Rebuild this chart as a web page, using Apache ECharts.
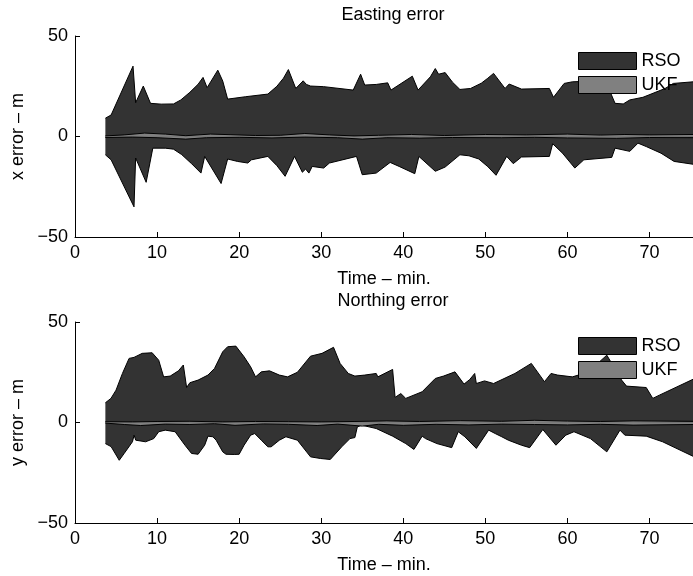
<!DOCTYPE html>
<html>
<head>
<meta charset="utf-8">
<script src="https://cdn.jsdelivr.net/npm/echarts@6/dist/echarts.min.js"></script>
<style>
  html, body { margin: 0; padding: 0; background: #fff; }
  #chart { width: 693px; height: 576px; }
</style>
</head>
<body>
<div id="chart"></div>
<script>
// Error envelopes over time: [time (min), error (m)]
const eastRsoUpper = [
  [3.7, 9.1], [4.4, 10.7], [7.07, 35.0], [7.39, 16.8], [8.32, 25.1], [9.2, 16.5],
  [10.5, 16.1], [12.0, 16.2], [12.9, 18.2], [14.0, 22.0], [15.0, 26.0], [15.6, 29.4],
  [16.1, 24.3], [17.4, 33.0], [18.0, 27.6], [18.6, 18.6], [20.8, 19.8], [23.5, 21.1],
  [24.6, 25.0], [25.4, 29.0], [26.0, 33.3], [26.9, 23.9], [27.8, 27.7], [28.2, 25.9],
  [28.7, 25.1], [30.3, 24.8], [33.9, 23.1], [34.8, 31.0], [35.3, 25.6], [36.7, 25.9],
  [38.1, 26.7], [38.5, 23.1], [41.1, 30.0], [41.8, 23.1], [43.3, 29.7], [43.9, 33.8],
  [44.3, 31.0], [45.1, 31.8], [46.0, 27.0], [46.9, 23.4], [48.2, 23.9], [49.5, 26.5],
  [50.3, 29.0], [51.0, 31.4], [52.4, 23.9], [52.9, 26.1], [54.4, 23.6], [57.8, 23.9],
  [58.3, 19.5], [59.6, 26.4], [60.6, 27.2], [62.5, 27.5], [64.5, 26.5], [65.2, 22.3],
  [65.8, 16.5], [66.8, 16.2], [67.6, 18.2], [69.2, 19.5], [71.9, 23.9], [72.9, 26.4],
  [75.3, 27.2]
];
const eastRsoLower = [
  [3.7, -9.1], [4.4, -11.6], [7.19, -35.0], [7.39, -10.7], [8.67, -22.8], [9.48, -5.8],
  [11.0, -5.8], [12.0, -6.3], [13.0, -9.0], [14.2, -13.5], [15.35, -18.2], [15.8, -9.9],
  [17.8, -23.4], [18.6, -11.2], [19.8, -12.4], [21.05, -13.2], [21.5, -11.6], [23.5, -9.9],
  [24.6, -14.5], [25.6, -19.8], [26.75, -9.9], [27.7, -17.8], [28.1, -16.2], [28.5, -18.2],
  [28.9, -14.9], [30.3, -15.7], [31.0, -13.2], [34.3, -9.9], [35.0, -19.0], [36.7, -18.2],
  [38.4, -12.9], [39.5, -14.9], [41.4, -18.5], [41.9, -9.9], [43.9, -17.3], [45.1, -15.2],
  [46.9, -9.1], [48.0, -9.6], [49.2, -11.2], [50.3, -15.0], [51.3, -19.3], [52.6, -9.9],
  [53.4, -13.5], [54.4, -10.2], [57.8, -9.9], [58.2, -3.6], [59.4, -8.3], [60.9, -15.7],
  [62.0, -11.6], [65.4, -10.4], [65.8, -5.8], [67.6, -7.4], [68.6, -3.3], [69.6, -5.0],
  [71.4, -8.3], [73.0, -12.4], [75.3, -13.8]
];
const eastUkfUpper = [
  [3.7, 0.3], [6, 0.8], [8.5, 1.7], [11, 1.2], [13.5, 0.4], [16.5, 1.2], [19, 0.9],
  [22, 0.5], [25, 0.6], [28, 1.5], [31, 0.8], [34, 0.3], [37, 0.6], [41, 1.0],
  [45, 0.5], [50, 1.0], [55, 0.8], [60, 1.2], [64, 0.7], [67, 1.0], [70, 0.8], [75.3, 1.0]
];
const eastUkfLower = [
  [3.7, -0.5], [7, -0.3], [10, -0.6], [13.5, -1.3], [16, -0.6], [20, -0.4], [24, -0.7],
  [28, -0.3], [32, -0.6], [35, -1.3], [38, -0.6], [42, -0.8], [46, -0.5], [52, -0.6],
  [56, -0.4], [60, -0.7], [66, -0.9], [70, -0.5], [75.3, -0.6]
];

const northRsoUpper = [
  [3.7, 9.8], [4.38, 12.0], [5.0, 16.1], [5.78, 24.4], [6.59, 31.9], [6.79, 31.0],
  [7.19, 32.4], [8.19, 34.4], [9.4, 34.7], [10.2, 31.0], [10.8, 22.7], [11.6, 23.1],
  [12.6, 25.7], [13.2, 28.6], [13.6, 17.4], [14.0, 19.8], [15.0, 21.1], [16.2, 23.6],
  [17.0, 26.9], [18.0, 35.2], [18.6, 37.7], [19.6, 38.0], [20.6, 32.7], [21.4, 27.7],
  [22.0, 22.7], [22.7, 25.2], [23.7, 25.7], [24.9, 23.6], [25.9, 22.7], [27.1, 25.0],
  [28.7, 33.0], [30.1, 34.4], [31.5, 37.4], [32.3, 29.4], [33.3, 24.4], [34.1, 23.1],
  [35.3, 23.6], [36.7, 24.4], [36.9, 22.7], [38.7, 26.4], [39.0, 12.5], [39.7, 14.4],
  [40.3, 12.0], [42.3, 15.3], [43.9, 21.9], [44.9, 23.1], [46.3, 25.2], [47.4, 19.1],
  [48.1, 21.4], [48.7, 24.4], [48.9, 19.4], [49.9, 20.7], [51.0, 19.4], [53.6, 24.4],
  [55.6, 29.4], [57.2, 20.3], [58.0, 24.4], [58.8, 23.6], [60.6, 22.7], [62.5, 25.0],
  [64.8, 33.5], [66.6, 21.1], [67.2, 18.1], [69.6, 17.4], [70.4, 12.0], [71.2, 13.6],
  [75.3, 21.5]
];
const northRsoLower = [
  [3.7, -10.5], [4.4, -12.0], [5.39, -18.8], [5.99, -15.4], [7.0, -9.6], [7.2, -6.3],
  [7.4, -8.8], [8.6, -9.6], [9.6, -8.0], [10.2, -4.6], [11.0, -3.8], [12.2, -4.6],
  [13.4, -11.3], [14.2, -15.4], [15.0, -15.8], [15.8, -11.3], [16.2, -6.8], [16.8, -7.1],
  [17.2, -8.8], [18.0, -14.6], [18.4, -15.8], [19.4, -15.9], [20.0, -15.8], [20.6, -11.3],
  [21.4, -6.3], [21.9, -5.5], [22.7, -8.8], [23.5, -12.1], [23.9, -12.1], [24.9, -8.8],
  [25.7, -7.1], [27.1, -8.8], [28.7, -17.1], [29.9, -17.9], [31.1, -18.4], [32.5, -12.1],
  [33.5, -8.0], [34.1, -7.5], [34.4, -2.2], [34.9, -1.3], [36.7, -3.0], [38.7, -6.8],
  [40.3, -10.5], [41.3, -13.4], [42.3, -6.8], [42.7, -8.0], [44.1, -10.5], [45.9, -12.5],
  [46.7, -4.6], [47.5, -7.1], [48.9, -12.9], [50.4, -3.8], [51.2, -5.5], [52.0, -7.1],
  [52.8, -8.8], [54.4, -11.3], [55.4, -12.5], [57.0, -3.5], [58.6, -11.3], [59.8, -6.3],
  [60.8, -4.6], [62.8, -8.0], [64.8, -14.6], [66.4, -3.8], [67.0, -6.3], [69.6, -6.8],
  [71.6, -9.6], [75.3, -16.8]
];
const northUkfUpper = [
  [3.7, 0.4], [7, 0.3], [10, 0.5], [14, 0.6], [18, 0.3], [22, 0.5], [26, 0.4], [30, 0.3],
  [34, 0.5], [38, 0.8], [42, 0.5], [47, 0.9], [52, 0.6], [56, 1.1], [60, 0.7], [64, 0.5],
  [68, 0.8], [75.3, 0.6]
];
const northUkfLower = [
  [3.7, -0.3], [6, -1.0], [8, -1.5], [11, -0.8], [14, -1.0], [17, -0.6], [19.5, -1.4],
  [23, -0.7], [26, -0.9], [29.5, -1.5], [32, -0.8], [35, -1.8], [37, -0.9], [40, -1.4],
  [44, -0.9], [48, -1.2], [52, -0.8], [56, -1.0], [60, -1.2], [64, -0.9], [68, -1.3],
  [75.3, -1.0]
];

const xTicks = [0, 10, 20, 30, 40, 50, 60, 70];
const panelTitles = ['Easting error', 'Northing error'];
const yNames = ['x error \u2013 m', 'y error \u2013 m'];
const xName = 'Time \u2013 min.';

const FONT = 'Liberation Sans, Arial, Helvetica, sans-serif';
const RSO_FILL = '#333333';
const UKF_FILL = '#808080';

const chart = echarts.init(document.getElementById('chart'), null, { renderer: 'canvas' });

// Plot boxes; the right edge runs slightly past the page edge
const grids = [
  { left: 75, top: 36, width: 625, height: 201 },
  { left: 75, top: 322, width: 625, height: 201 }
];

function minusFmt(v) {
  return String(v).replace('-', '\u2212');
}

function xAxisFor(i) {
  return {
    type: 'value', gridIndex: i, min: 0, max: 75.3,
    name: xName, nameLocation: 'middle', nameGap: 33,
    nameTextStyle: { fontFamily: FONT, fontSize: 18, color: '#000' },
    axisLine: { show: true, onZero: false, lineStyle: { color: '#000', width: 1 } },
    axisTick: { show: true, inside: true, length: 5, lineStyle: { color: '#000' },
      customValues: xTicks },
    axisLabel: { fontFamily: FONT, fontSize: 18, color: '#000', margin: 7,
      customValues: xTicks },
    splitLine: { show: false }
  };
}
function yAxisFor(i) {
  return {
    type: 'value', gridIndex: i, min: -50, max: 50, interval: 50,
    name: yNames[i], nameLocation: 'middle', nameGap: 48, nameRotate: 90,
    nameTextStyle: { fontFamily: FONT, fontSize: 18, color: '#000' },
    axisLine: { show: true, onZero: false, lineStyle: { color: '#000', width: 1 } },
    axisTick: { show: true, inside: true, length: 5, lineStyle: { color: '#000' } },
    axisLabel: { fontFamily: FONT, fontSize: 18, color: '#000', margin: 7,
      formatter: minusFmt },
    splitLine: { show: false }
  };
}

function band(name, data, i, fill, z) {
  return {
    name: name, type: 'line', xAxisIndex: i, yAxisIndex: i, data: data,
    symbol: 'none', smooth: false, z: z,
    lineStyle: { color: '#000', width: 1 },
    areaStyle: { color: fill, opacity: 1 },
    emphasis: { disabled: true }
  };
}

function legendFor(top) {
  return {
    orient: 'vertical', left: 578, top: top, padding: 0,
    itemWidth: 58, itemHeight: 17, itemGap: 6,
    textStyle: { fontFamily: FONT, fontSize: 18, color: '#000', lineHeight: 17 },
    selectedMode: false,
    data: [
      { name: 'RSO', icon: 'rect', itemStyle: { color: RSO_FILL, borderColor: '#000', borderWidth: 1 } },
      { name: 'UKF', icon: 'rect', itemStyle: { color: UKF_FILL, borderColor: '#000', borderWidth: 1 } }
    ]
  };
}

chart.setOption({
  animation: false,
  backgroundColor: '#fff',
  title: [
    { text: panelTitles[0], left: 388, top: 1, textAlign: 'center',
      textStyle: { fontFamily: FONT, fontSize: 18, fontWeight: 'normal', color: '#000' } },
    { text: panelTitles[1], left: 388, top: 287, textAlign: 'center',
      textStyle: { fontFamily: FONT, fontSize: 18, fontWeight: 'normal', color: '#000' } }
  ],
  grid: grids,
  xAxis: [xAxisFor(0), xAxisFor(1)],
  yAxis: [yAxisFor(0), yAxisFor(1)],
  legend: [legendFor(52), legendFor(337)],
  series: [
    band('RSO', eastRsoUpper, 0, RSO_FILL, 2),
    band('RSO', eastRsoLower, 0, RSO_FILL, 2),
    band('UKF', eastUkfUpper, 0, UKF_FILL, 3),
    band('UKF', eastUkfLower, 0, UKF_FILL, 3),
    band('RSO', northRsoUpper, 1, RSO_FILL, 2),
    band('RSO', northRsoLower, 1, RSO_FILL, 2),
    band('UKF', northUkfUpper, 1, UKF_FILL, 3),
    band('UKF', northUkfLower, 1, UKF_FILL, 3)
  ]
});
</script>
</body>
</html>
